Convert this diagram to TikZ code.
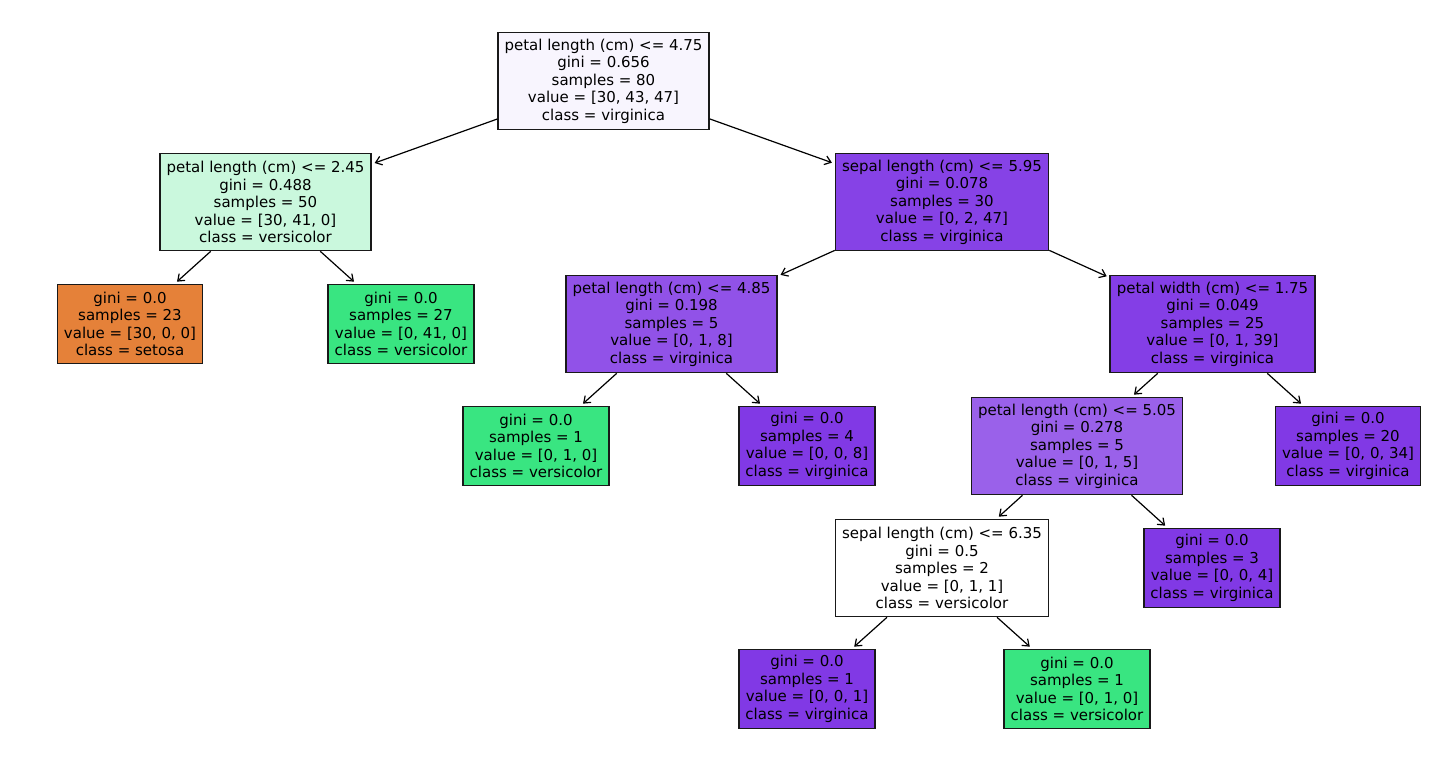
\documentclass[tikz,border=0pt]{standalone}
\usepackage{fontspec}
\setmainfont{DejaVu Sans}
\usetikzlibrary{arrows.meta, positioning}
\definecolor{setosa}{HTML}{E58139}
\definecolor{versicolor}{HTML}{39E581}
\definecolor{virginica}{HTML}{8139E5}
\definecolor{rootfill}{HTML}{F8F5FE}
\definecolor{versilight}{HTML}{CAF8DD}
\definecolor{virgA}{HTML}{8642E6}
\definecolor{virgB}{HTML}{9152E8}
\definecolor{virgC}{HTML}{843EE6}
\definecolor{virgD}{HTML}{9A61EA}

\begin{document}
\begin{tikzpicture}[
    x=0.5pt, y=-0.5pt,
    box/.style={rectangle, draw=black!90, line width=0.8pt, align=center, inner xsep=3.25pt, inner ysep=0pt, font=\fontsize{7.5}{8.75}\selectfont},
    split/.style={box, minimum height=48.5pt},
    leaf/.style={box, minimum height=39.5pt},
    arrow/.style={-{Straight Barb[length=3pt, width=4.5pt]}, line width=0.6pt, shorten >=1.5pt}
]
\useasboundingbox (0,0) rectangle (1435,764);

% splits
\node[split, fill=rootfill] (root) at (603.5,81) {petal length (cm) <= 4.75\\gini = 0.656\\samples = 80\\value = [30, 43, 47]\\class = virginica};
\node[split, fill=versilight] (pl245) at (265.5,202) {petal length (cm) <= 2.45\\gini = 0.488\\samples = 50\\value = [30, 41, 0]\\class = versicolor};
\node[split, fill=virgA] (sl595) at (942,202) {sepal length (cm) <= 5.95\\gini = 0.078\\samples = 30\\value = [0, 2, 47]\\class = virginica};
\node[split, fill=virgB] (pl485) at (671.5,324) {petal length (cm) <= 4.85\\gini = 0.198\\samples = 5\\value = [0, 1, 8]\\class = virginica};
\node[split, fill=virgC] (pw175) at (1212.5,324) {petal width (cm) <= 1.75\\gini = 0.049\\samples = 25\\value = [0, 1, 39]\\class = virginica};
\node[split, fill=virgD] (pl505) at (1077,446) {petal length (cm) <= 5.05\\gini = 0.278\\samples = 5\\value = [0, 1, 5]\\class = virginica};
\node[split, fill=white] (sl635) at (942,568) {sepal length (cm) <= 6.35\\gini = 0.5\\samples = 2\\value = [0, 1, 1]\\class = versicolor};

% leaves
\node[leaf, fill=setosa] (leafA) at (130,324) {gini = 0.0\\samples = 23\\value = [30, 0, 0]\\class = setosa};
\node[leaf, fill=versicolor] (leafB) at (401,324) {gini = 0.0\\samples = 27\\value = [0, 41, 0]\\class = versicolor};
\node[leaf, fill=versicolor] (leafC) at (536,446) {gini = 0.0\\samples = 1\\value = [0, 1, 0]\\class = versicolor};
\node[leaf, fill=virginica] (leafD) at (807,446) {gini = 0.0\\samples = 4\\value = [0, 0, 8]\\class = virginica};
\node[leaf, fill=virginica] (leafE) at (1348,446) {gini = 0.0\\samples = 20\\value = [0, 0, 34]\\class = virginica};
\node[leaf, fill=virginica] (leafF) at (1212,568) {gini = 0.0\\samples = 3\\value = [0, 0, 4]\\class = virginica};
\node[leaf, fill=virginica] (leafG) at (807,689) {gini = 0.0\\samples = 1\\value = [0, 0, 1]\\class = virginica};
\node[leaf, fill=versicolor] (leafH) at (1077,689) {gini = 0.0\\samples = 1\\value = [0, 1, 0]\\class = versicolor};

\draw[arrow] (root) -- (pl245);
\draw[arrow] (root) -- (sl595);
\draw[arrow] (pl245) -- (leafA);
\draw[arrow] (pl245) -- (leafB);
\draw[arrow] (sl595) -- (pl485);
\draw[arrow] (sl595) -- (pw175);
\draw[arrow] (pl485) -- (leafC);
\draw[arrow] (pl485) -- (leafD);
\draw[arrow] (pw175) -- (pl505);
\draw[arrow] (pw175) -- (leafE);
\draw[arrow] (pl505) -- (sl635);
\draw[arrow] (pl505) -- (leafF);
\draw[arrow] (sl635) -- (leafG);
\draw[arrow] (sl635) -- (leafH);

\end{tikzpicture}
\end{document}
